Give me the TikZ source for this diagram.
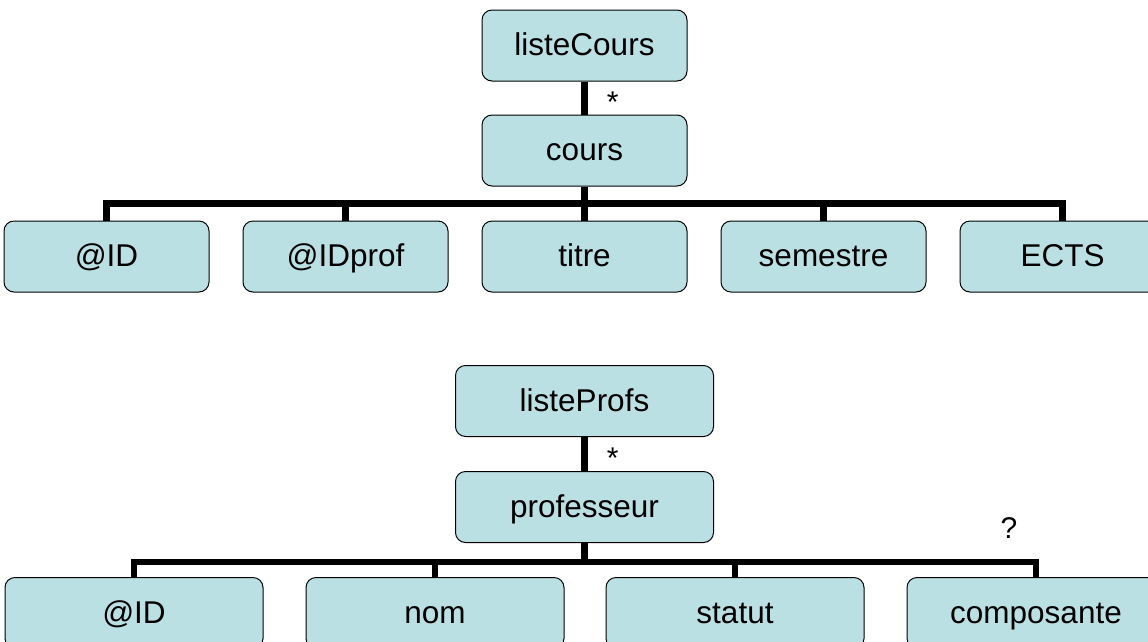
\documentclass[tikz,border=0pt]{standalone}
\usepackage{fontspec}
\setmainfont{Liberation Sans}
\usetikzlibrary{positioning,calc}
\definecolor{boxfill}{RGB}{187,224,227}

\begin{document}
\begin{tikzpicture}[x=1pt, y=-1pt, node distance=33pt,
  elem/.style={draw, line width=1pt, fill=boxfill, rounded corners=10pt,
    minimum width=205pt, minimum height=71pt, inner sep=0pt,
    text height=26pt, text depth=6pt,
    font=\fontsize{31.5}{36}\selectfont},
  wide/.style={elem, minimum width=258pt},
  conn/.style={line width=6.5pt},
  card/.style={inner sep=0pt, font=\fontsize{30}{34}\selectfont}]
  \useasboundingbox (0,0) rectangle (1148,641);

  % listeCours
  \node[elem] (LC) at (584.5,45.5) {listeCours};
  \node[elem, below=33pt of LC] (C) {cours};
  \node[elem, below=34pt of C] (C3) {titre};
  \node[elem, left=of C3] (C2) {@IDprof};
  \node[elem, left=of C2] (C1) {@ID};
  \node[elem, right=of C3] (C4) {semestre};
  \node[elem, right=of C4] (C5) {ECTS};

  \draw[conn] (LC) -- (C) node[card, midway, right=19pt, yshift=-4pt] {*};
  \path (C.south) -- ++(0,17) coordinate (cb);
  \foreach \k in {1,...,5}
    \draw[conn] (C.south) -- (cb) -| (C\k.north);

  % listeProfs
  \node[wide] (LP) at (584.5,401) {listeProfs};
  \node[wide, below=34pt of LP] (P) {professeur};
  \node[wide, below=34pt of P, xshift=-149.5pt] (P2) {nom};
  \node[wide, left=42pt of P2] (P1) {@ID};
  \node[wide, right=41pt of P2] (P3) {statut};
  \node[wide, right=42pt of P3] (P4) {composante};

  \draw[conn] (LP) -- (P) node[card, midway, right=19pt, yshift=-4pt] {*};
  \path (P.south) -- ++(0,19) coordinate (pb);
  \foreach \k in {1,...,4}
    \draw[conn] (P.south) -- (pb) -| (P\k.north);
  \node[card] (opt) at ($(P4.north)+(-27,-49)$) {?};
\end{tikzpicture}
\end{document}
